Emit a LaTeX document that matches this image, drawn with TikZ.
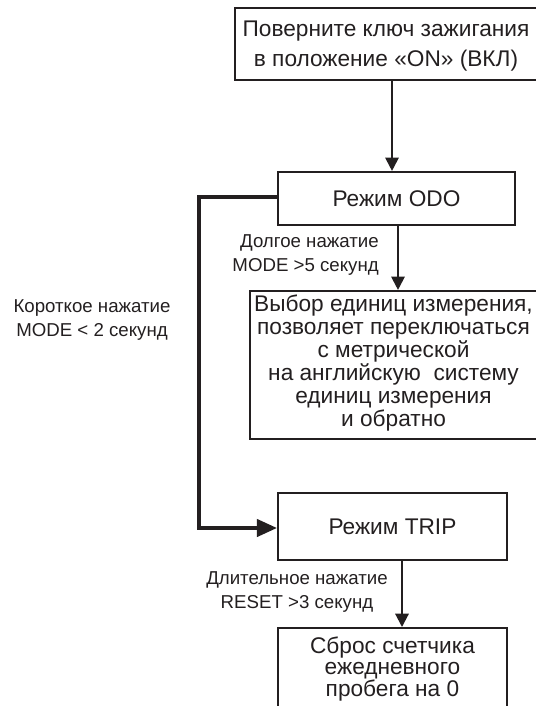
\documentclass[tikz,border=0pt]{standalone}
\usepackage{fontspec}
\setmainfont{Liberation Sans}
\usetikzlibrary{arrows.meta}
\definecolor{ink}{HTML}{231F20}
\tikzset{
  boxstyle/.style={draw=ink, line width=1.6pt, text=ink, align=center, inner sep=0pt, font=\fontsize{17}{16.3}\selectfont},
  boxtext/.style={text=ink, align=center, inner sep=0pt, font=\fontsize{17}{16.3}\selectfont},
  lbl/.style={text=ink, inner sep=0pt, font=\fontsize{14}{17.3}\selectfont},
  conn/.style={draw=ink, line width=1.6pt, -{Triangle[length=10pt,width=10pt]}},
  loopconn/.style={draw=ink, line width=2.4pt, -{Triangle[length=15pt,width=13pt]}}
}
\begin{document}
\begin{tikzpicture}[x=0.75pt,y=-0.75pt]
\useasboundingbox (0,0) rectangle (535,706);
% box 1
\node[boxstyle, minimum width=302*0.75pt, minimum height=72*0.75pt] (b1) at (386,44) {};
\node[boxtext, font=\fontsize{17}{22.5}\selectfont] (b1text) at (386,46) {Поверните ключ зажигания\\в положение «ON» (ВКЛ)};
% ODO
\node[boxstyle, minimum width=237*0.75pt, minimum height=53*0.75pt] (odo) at (396.5,198.5) {Режим ODO};
% units
\node[boxstyle, minimum width=287*0.75pt, minimum height=148*0.75pt] (units) at (393.5,365) {};
\node[boxtext, font=\fontsize{17}{17.2}\selectfont] (unitstext) at (393.5,363) {Выбор единиц измерения,\\ позволяет переключаться\\с метрической\\на английскую\ \ систему\\единиц измерения\\и обратно};
% TRIP
\node[boxstyle, minimum width=229*0.75pt, minimum height=67*0.75pt] (trip) at (392.5,526.5) {Режим TRIP};
% reset box
\node[boxstyle, minimum width=229*0.75pt, minimum height=120*0.75pt, anchor=north] (reset) at (392.5,627) {};
\node[boxtext] (resettext) at (392.5,669) {Сброс счетчика\\ежедневного\\пробега на 0};
% labels
\node[lbl, align=right, anchor=east] (l1) at (379,255) {Долгое нажатие\\MODE >5 секунд};
\node[lbl, align=center] (l2) at (297,592) {Длительное нажатие\\RESET >3 секунд};
\node[lbl, align=center] (l3) at (92,320) {Короткое нажатие\\MODE < 2 секунд};
% connectors
\coordinate (c1) at (199,197);
\coordinate (c2) at (199,528);
\draw[conn] (b1.south -| 392,0) -- (odo.north -| 392,0);
\draw[conn] (odo.south -| 398,0) -- (units.north -| 398,0);
\draw[conn] (trip.south -| 402,0) -- (reset.north -| 402,0);
\draw[loopconn] (odo.west |- c1) -- (c1) -- (c2) -- (trip.west |- c2);
\end{tikzpicture}
\end{document}
